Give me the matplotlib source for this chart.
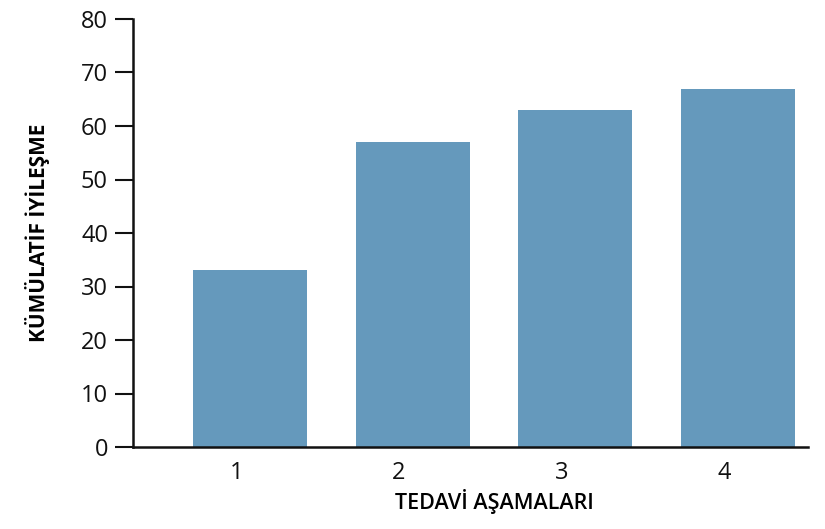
import matplotlib.pyplot as plt

# veriler
asamalar = ['1', '2', '3', '4']
iyilesme = [33, 57, 63, 67]
y_ticks = [0, 10, 20, 30, 40, 50, 60, 70, 80]

plt.rcParams['font.family'] = ['Open Sans', 'DejaVu Sans']

fig = plt.figure(figsize=(8.25, 5.29), dpi=100)
ax = fig.add_axes([133 / 825, 1 - 447 / 529, (808 - 133) / 825, (447 - 19) / 529])

x = list(range(1, len(asamalar) + 1))
ax.bar(x, iyilesme, width=0.70, color='#6599BC')

ax.set_xlim(0.28, 4.43)
ax.set_ylim(0, 80)
ax.set_yticks(y_ticks)
# etiketler çubuk ortasının biraz solunda duruyor
ax.set_xticks([v - 0.085 for v in x])
ax.set_xticklabels(asamalar)

for s in ['top', 'right']:
    ax.spines[s].set_visible(False)
for s in ['left', 'bottom']:
    ax.spines[s].set_linewidth(1.8)
    ax.spines[s].set_color('#111111')

ax.tick_params(axis='y', length=13, width=1.5, labelsize=17, pad=5, colors='#111111')
ax.tick_params(axis='x', length=0, labelsize=17, pad=10, colors='#111111')

ax.set_ylabel('KÜMÜLATİF İYİLEŞME', fontsize=15, fontweight='bold', labelpad=22)
ax.set_xlabel('TEDAVİ AŞAMALARI', fontsize=15.5, fontweight='semibold')
ax.xaxis.set_label_coords(0.535, -0.098)

plt.savefig('out.png', dpi=100)
